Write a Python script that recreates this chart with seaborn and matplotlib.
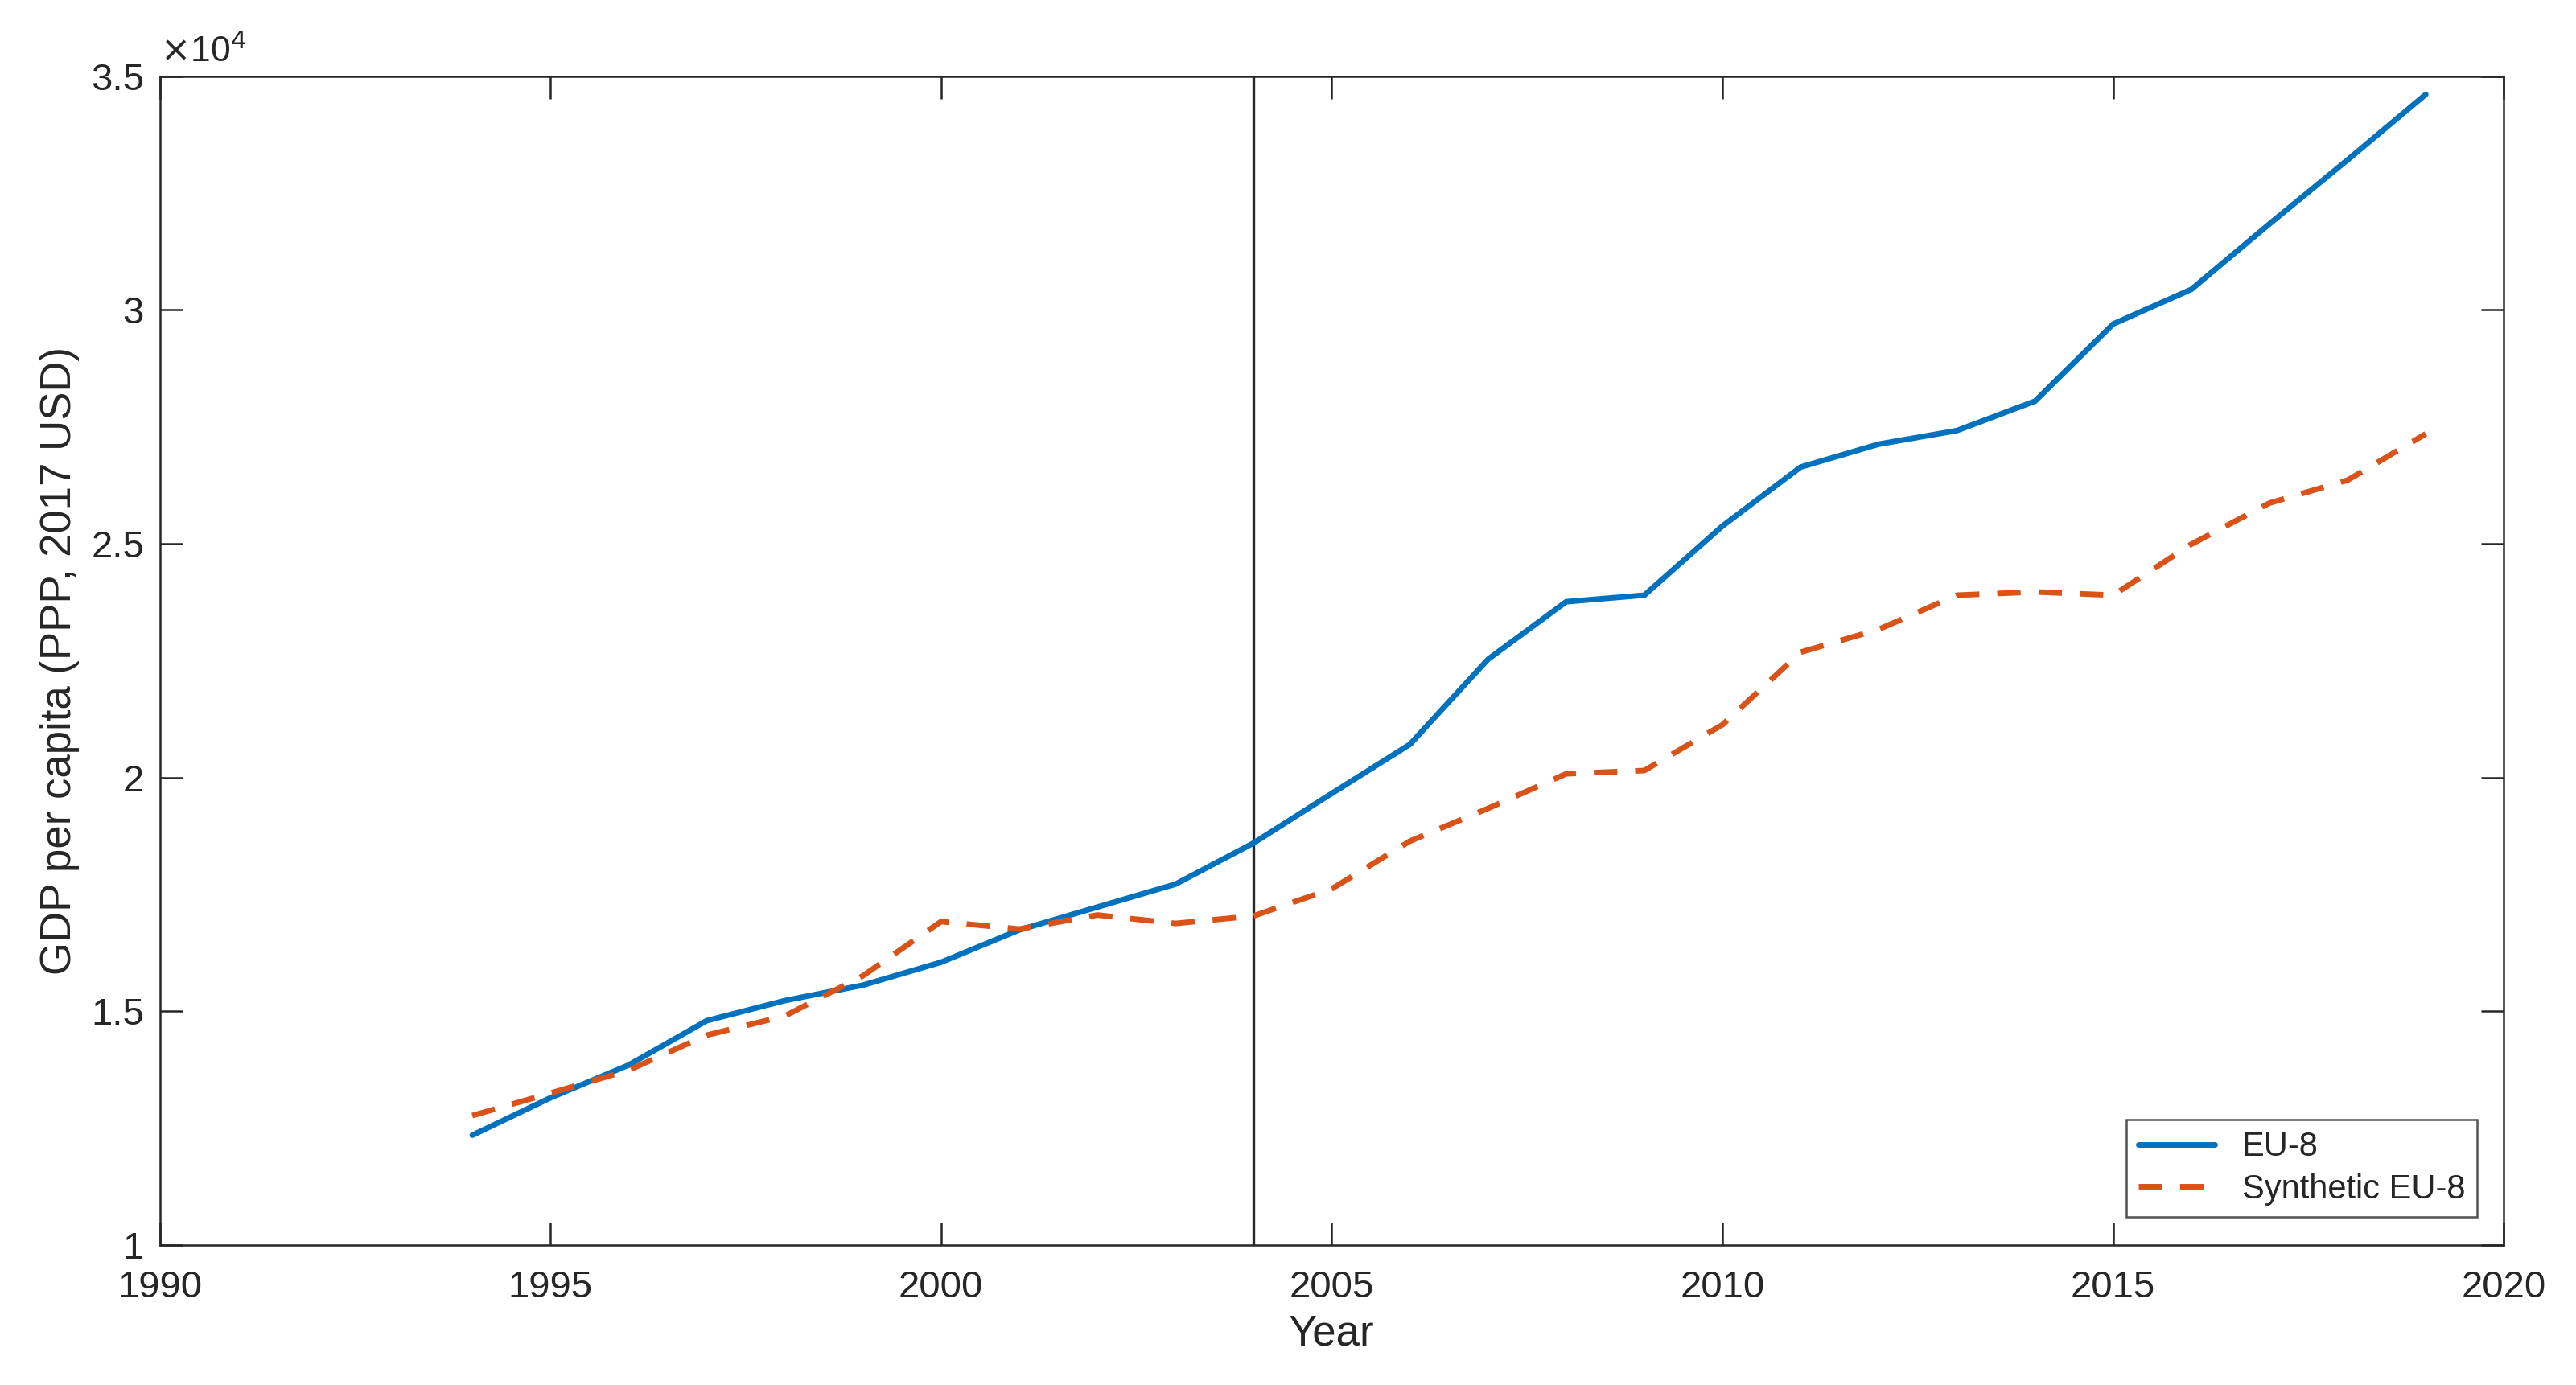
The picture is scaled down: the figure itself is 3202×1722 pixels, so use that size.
import numpy as np
import pandas as pd
import matplotlib
matplotlib.use("Agg")
import matplotlib.pyplot as plt
import seaborn as sns
from matplotlib.ticker import FuncFormatter, MultipleLocator
from matplotlib.lines import Line2D

years = list(range(1994, 2020))
eu8 = [12350, 13150, 13850, 14800, 15230, 15560, 16050, 16740, 17230, 17720,
       18600, 19660, 20710, 22530, 23760, 23900, 25380, 26640, 27130, 27420,
       28050, 29700, 30440, 31840, 33210, 34610]
synthetic = [12770, 13250, 13740, 14490, 14900, 15760, 16920, 16760, 17060, 16880,
             17040, 17620, 18640, 19340, 20080, 20150, 21130, 22680, 23170, 23900,
             23970, 23900, 24990, 25870, 26360, 27350]
series_names = ["EU-8", "Synthetic EU-8"]
treatment_year = 2004

sns.set_theme(style="white")
plt.rcParams['font.family'] = ['Liberation Sans', 'DejaVu Sans']

df = pd.DataFrame({
    "Year": years * 2,
    "GDP": eu8 + synthetic,
    "Series": [series_names[0]] * len(years) + [series_names[1]] * len(years),
})

fig = plt.figure(figsize=(16.01, 8.61), dpi=200)
ax = fig.add_axes([0.062, 0.101, 0.910, 0.844])

blue, orange = "#0072BD", "#D95319"
palette = {series_names[0]: blue, series_names[1]: orange}
lw = 2.5
dash = (4.2, 3.2)
sns.lineplot(data=df, x="Year", y="GDP", hue="Series", style="Series",
             palette=palette, dashes={series_names[0]: "", series_names[1]: dash},
             linewidth=lw, ax=ax, legend=False)
ax.axvline(treatment_year, color="#262626", linewidth=1.2, zorder=1)

ax.set_xlim(1990, 2020)
ax.set_ylim(10000, 35000)
ax.xaxis.set_major_locator(MultipleLocator(5))
ax.yaxis.set_major_locator(MultipleLocator(5000))
ax.yaxis.set_major_formatter(FuncFormatter(lambda v, p: f"{v/1e4:g}"))

txtc = "#262626"
for s in ax.spines.values():
    s.set_color("#262626")
    s.set_linewidth(0.9)
ax.tick_params(direction="in", length=10, width=0.9, colors="#262626",
               labelcolor=txtc, labelsize=17, top=True, right=True,
               bottom=True, left=True)
ax.tick_params(axis="x", pad=11)
ax.tick_params(axis="y", pad=7)
ax.set_xlabel("Year", fontsize=19, color=txtc, labelpad=4)
ax.set_ylabel("GDP per capita (PPP, 2017 USD)", fontsize=19, color=txtc, labelpad=5)
ax.text(0.0, 1.006, r"$\times$10$^4$", transform=ax.transAxes, fontsize=16,
        color=txtc, ha="left", va="bottom")

handles = [Line2D([0], [0], color=blue, lw=lw),
           Line2D([0], [0], color=orange, lw=lw, dashes=dash)]
leg = ax.legend(handles, series_names, loc="lower right", fontsize=15,
                frameon=True, fancybox=False, edgecolor="#262626",
                bbox_to_anchor=(0.9885, 0.024), handlelength=2.3,
                borderpad=0.35, labelspacing=0.3, handletextpad=0.8,
                borderaxespad=0.0)
leg.get_frame().set_linewidth(0.9)

fig.savefig("out.png", dpi=200, facecolor="white")
